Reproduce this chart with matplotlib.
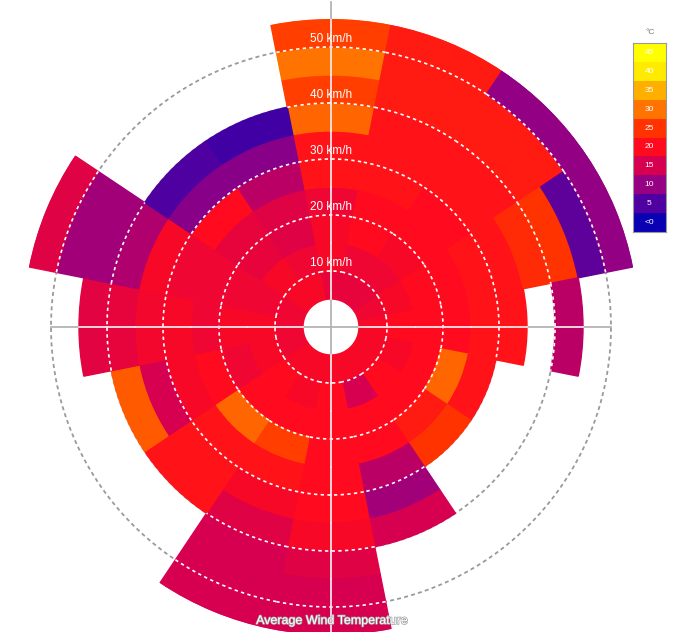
import numpy as np
import matplotlib.pyplot as plt
import matplotlib.patheffects as pe
from matplotlib.colors import LinearSegmentedColormap, Normalize

plt.rcParams['font.family'] = ['Liberation Sans', 'DejaVu Sans']

# wind directions, clockwise from north
directions = ['N', 'NNE', 'NE', 'ENE', 'E', 'ESE', 'SE', 'SSE',
              'S', 'SSW', 'SW', 'WSW', 'W', 'WNW', 'NW', 'NNW']
# lower edge of each 5 km/h speed bin
speed_bins = [5, 10, 15, 20, 25, 30, 35, 40, 45, 50]

# average temperature (deg C) per speed bin, None = no data
temp_N = [17, 19, 19, 18, 21, 21, 29, 26, 30, 26]
temp_NNE = [17, 18, 20, 20, 21, 21, 21, 22, 22, 22]
temp_NE = [17, 18, 19, 20, 20, 21, 21, 22, 22, 10]
temp_ENE = [18, 19, 20, 20, 21, 21, 24, 25, 6, 10]
temp_E = [19, 20, 20, 20, 21, 21, None, 13, None, None]
temp_ESE = [19, 19, 20, 29, 21, None, None, None, None, None]
temp_SE = [19, 20, 20, 22, 25, None, None, None, None, None]
temp_SSE = [19, 15, 20, 20, 13, 11, 15, None, None, None]
temp_S = [19, 20, 20, 20, 20, 20, 19, 16, 15, 15]
temp_SSW = [19, 19, 20, 26, 21, 19, 16, 15, 15, 15]
temp_SW = [19, 20, 20, 29, 21, 21, 21, None, None, None]
temp_WSW = [18, 19, 18, 20, 19, 15, 28, None, None, None]
temp_W = [18, 19, 19, 18, 19, 18.5, 17, 16.5, None, None]
temp_WNW = [18, 18, 18, 18, 18, 19, 12, 11, 11, 16]
temp_NW = [19, 19, 17, 17, 20, 9, 5, None, None, None]
temp_NNW = [19, 18, 16, 16, 13, 9, 4, None, None, None]

temps = [temp_N, temp_NNE, temp_NE, temp_ENE, temp_E, temp_ESE, temp_SE, temp_SSE,
         temp_S, temp_SSW, temp_SW, temp_WSW, temp_W, temp_WNW, temp_NW, temp_NNW]

ring_speeds = [10, 20, 30, 40, 50]

legend_temps = [0, 5, 10, 15, 20, 25, 30, 35, 40, 45]
legend_labels = ['<0', '5', '10', '15', '20', '25', '30', '35', '40', '45']
legend_colors = ['#0a00b4', '#5000a0', '#960082', '#d70050', '#ff0a1e',
                 '#ff3200', '#ff7300', '#ffaf00', '#ffeb00', '#ffff00']

cmap = LinearSegmentedColormap.from_list(
    'windtemp', list(zip(np.array(legend_temps) / 45.0, legend_colors)))
norm = Normalize(0, 45)

W, H = 673, 632
cx, cy = 331, 327          # centre of the rose in pixels
rmax = 55
rpx = 308                  # pixels for rmax

fig = plt.figure(figsize=(W / 100, H / 100), dpi=100)
ax = fig.add_axes([(cx - rpx) / W, (H - cy - rpx) / H, 2 * rpx / W, 2 * rpx / H],
                  projection='polar')
ax.set_theta_zero_location('N')
ax.set_theta_direction(-1)
ax.set_ylim(0, rmax)
ax.grid(False)
ax.set_xticks([])
ax.set_yticks([])
ax.spines['polar'].set_visible(False)
ax.patch.set_alpha(0)

width = 2 * np.pi / len(directions)

# grey dashed rings and axis lines underneath everything
full = np.linspace(0, 2 * np.pi, 500)
for r in ring_speeds:
    ax.plot(full, np.full_like(full, r), color='#9a9a9a', lw=1.3,
            ls=(0, (2.2, 1.8)), zorder=1)
ax.plot([0, 0], [0, 58], color='#b4b4b4', lw=1.3, zorder=1, clip_on=False)
for th in [np.pi / 2, np.pi, 3 * np.pi / 2]:
    ax.plot([th, th], [0, 50], color='#b4b4b4', lw=1.3, zorder=1)

# the coloured cells
for i, tlist in enumerate(temps):
    theta = i * width
    for j, t in enumerate(tlist):
        if t is None:
            continue
        c = cmap(norm(t))
        ax.bar(theta, 5, width=width, bottom=speed_bins[j], color=c,
               edgecolor=c, linewidth=1.0, zorder=2)

# white dashed rings / axis lines on top of the cells
for i, tlist in enumerate(temps):
    theta = i * width
    arc = np.linspace(theta - width / 2, theta + width / 2, 25)
    for r in ring_speeds:
        covered = any(t is not None and speed_bins[j] <= r < speed_bins[j] + 5
                      for j, t in enumerate(tlist))
        if covered:
            ax.plot(arc, np.full_like(arc, r), color='white', lw=1.2,
                    ls=(0, (2, 2)), zorder=3)
    if i % 4 == 0:
        for j, t in enumerate(tlist):
            if t is not None:
                ax.plot([theta, theta], [speed_bins[j], speed_bins[j] + 5],
                        color='#fbe4e8', lw=1.3, zorder=3)

for r in ring_speeds:
    ax.text(0, r + 1.5, '%d km/h' % r, color='white', fontsize=8.5,
            ha='center', va='center', zorder=5)

fig.text(332 / W, 1 - 621 / H, 'Average Wind Temperature', color='white',
         fontsize=9, ha='center', va='center',
         path_effects=[pe.withStroke(linewidth=1.0, foreground='#a0a0a0')])

# legend
lax = fig.add_axes([633 / W, (H - 232) / H, 33 / W, 189 / H])
for k, (col, lab) in enumerate(zip(legend_colors, legend_labels)):
    lax.bar(0, 1, bottom=k, width=1, color=col)
    lax.text(0, k + 0.5, lab, color='white', fontsize=6, ha='center', va='center')
lax.set_xlim(-0.5, 0.5)
lax.set_ylim(0, len(legend_labels))
lax.set_xticks([])
lax.set_yticks([])
for s in lax.spines.values():
    s.set_color('#999999')
    s.set_linewidth(0.8)
fig.text(650 / W, 1 - 33 / H, '°C', color='#777777', fontsize=6,
         ha='center', va='center')

fig.savefig('out.png', dpi=100)
